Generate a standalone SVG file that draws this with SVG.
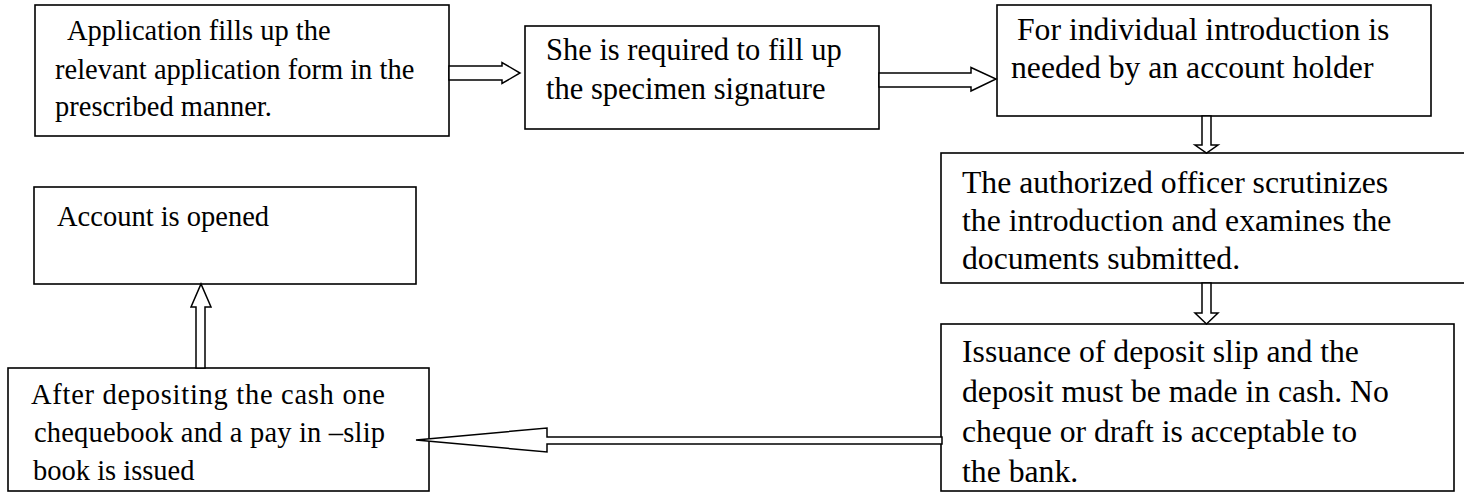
<svg xmlns="http://www.w3.org/2000/svg" width="1464" height="493" viewBox="0 0 1464 493">
<style>
.box{fill:#fff;stroke:#000;stroke-width:1.6}
.arr{fill:#fff;stroke:#000;stroke-width:1.5;stroke-linejoin:miter}
text{font-family:"Liberation Serif","Times New Roman",serif;fill:#000}
.s28{font-size:28.5px}
.s30{font-size:30.5px}
.s32{font-size:31.7px}
</style>
<rect width="1464" height="493" fill="#fff"/>
<g id="n1">
<rect class="box" x="35" y="5" width="414" height="131"/>
<text class="s28"><tspan x="67" y="40">Application fills up the</tspan><tspan x="55" y="79">relevant application form in the</tspan><tspan x="55" y="116">prescribed manner.</tspan></text>
</g>
<g id="n2">
<rect class="box" x="525" y="26" width="354" height="103"/>
<text class="s30"><tspan x="546" y="60">She is required to fill up</tspan><tspan x="546" y="99">the specimen signature</tspan></text>
</g>
<g id="n3">
<rect class="box" x="997" y="5" width="434" height="111"/>
<text class="s32"><tspan x="1017" y="40">For individual introduction is</tspan><tspan x="1011" y="78">needed by an account holder</tspan></text>
</g>
<g id="n4">
<rect class="box" x="941" y="153" width="540" height="130"/>
<text class="s32"><tspan x="962" y="193">The authorized officer scrutinizes</tspan><tspan x="962" y="231">the introduction and examines the</tspan><tspan x="962" y="269">documents submitted.</tspan></text>
</g>
<g id="n5">
<rect class="box" x="941" y="324" width="513" height="167"/>
<text class="s32"><tspan x="962" y="362">Issuance of deposit slip and the</tspan><tspan x="962" y="402">deposit must be made in cash. No</tspan><tspan x="962" y="442">cheque or draft is acceptable to</tspan><tspan x="962" y="482">the bank.</tspan></text>
</g>
<g id="n6">
<rect class="box" x="34" y="187" width="382" height="97"/>
<text class="s28" x="57" y="226">Account is opened</text>
</g>
<g id="n7">
<rect class="box" x="8" y="368" width="421" height="123"/>
<text class="s28"><tspan x="31" y="404" textLength="354" lengthAdjust="spacing">After depositing the cash one</tspan></text>
<text class="s28"><tspan x="34" y="442" textLength="351" lengthAdjust="spacing">chequebook and a pay in –slip</tspan></text>
<text class="s28"><tspan x="33" y="480">book is issued</tspan></text>
</g>
<g id="connectors">
<polygon class="arr" points="449,66 502,66 502,62.5 520,73 502,83.5 502,80 449,80"/>
<polygon class="arr" points="879,73 971,73 971,67.5 996,79 971,91 971,87 879,87"/>
<polygon class="arr" points="1202,116 1211,116 1211,145 1218,145 1206.5,153 1195,145 1202,145"/>
<polygon class="arr" points="1202,283 1211,283 1211,313 1218,313 1206.5,324 1195,313 1202,313"/>
<polygon class="arr" points="196,368 205,368 205,307 211,307 201,284 191,307 196,307"/>
<polygon class="arr" points="942,437 547,437 547,428 416,440 547,452 547,444 942,444"/>
</g>
</svg>
